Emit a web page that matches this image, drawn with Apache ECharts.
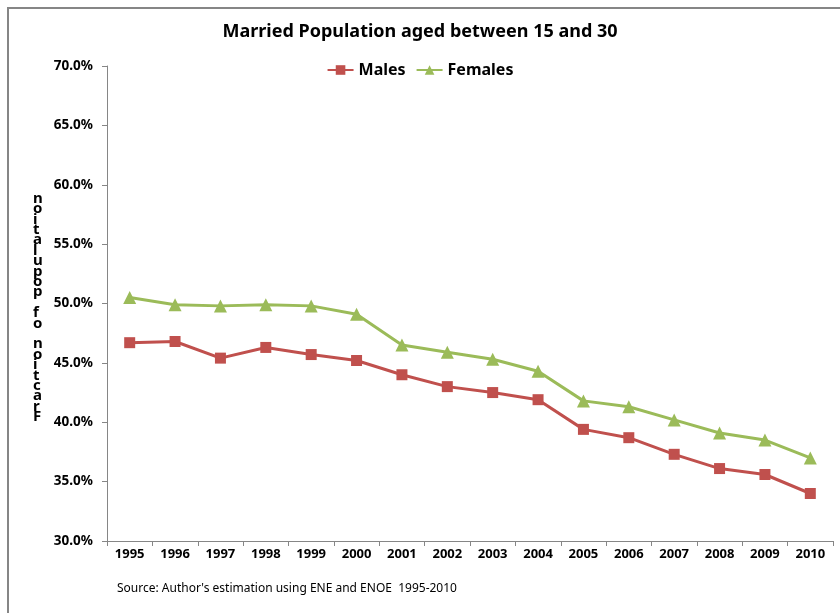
<!DOCTYPE html>
<html>
<head>
<meta charset="utf-8">
<script src="https://cdn.jsdelivr.net/npm/echarts@6/dist/echarts.min.js"></script>
<style>
  html, body { margin: 0; padding: 0; background: #fff; }
  #main { width: 840px; height: 613px; }
</style>
</head>
<body>
<div id="main"></div>
<script>
var years = ['1995','1996','1997','1998','1999','2000','2001','2002','2003','2004','2005','2006','2007','2008','2009','2010'];
var males = [46.7, 46.8, 45.4, 46.3, 45.7, 45.2, 44.0, 43.0, 42.5, 41.9, 39.4, 38.7, 37.3, 36.1, 35.6, 34.0];
var females = [50.5, 49.9, 49.8, 49.9, 49.8, 49.1, 46.5, 45.9, 45.3, 44.3, 41.8, 41.3, 40.2, 39.1, 38.5, 37.0];

var font = "'Liberation Sans Narrow', 'Noto Sans', sans-serif";
// the y title is stacked letter by letter, bottom to top
var yTitle = 'Fraction of population'.split('').reverse().join('\n');

var chart = echarts.init(document.getElementById('main'));
var option = {
  backgroundColor: '#fff',
  textStyle: { fontFamily: font },
  title: {
    text: 'Married Population aged between 15 and 30',
    left: 'center',
    top: 18,
    textStyle: { fontSize: 18, fontWeight: 'bold', color: '#000', fontFamily: font }
  },
  legend: {
    top: 57,
    left: 'center',
    itemGap: 10,
    itemWidth: 26,
    itemHeight: 12,
    textStyle: { fontSize: 16, fontWeight: 'bold', color: '#000', fontFamily: font },
    data: ['Males', 'Females']
  },
  grid: { left: 107, right: 7, top: 66, bottom: 72, containLabel: false },
  xAxis: {
    type: 'category',
    data: years,
    boundaryGap: true,
    axisLine: { lineStyle: { color: '#868686', width: 1 } },
    axisTick: { show: true, length: 5, lineStyle: { color: '#868686' } },
    axisLabel: { fontSize: 13, fontWeight: 'bold', color: '#000', margin: 7, fontFamily: font }
  },
  yAxis: {
    type: 'value',
    min: 30,
    max: 70,
    interval: 5,
    splitLine: { show: false },
    axisLine: { show: true, lineStyle: { color: '#868686', width: 1 } },
    axisTick: { show: true, length: 5, lineStyle: { color: '#868686' } },
    axisLabel: {
      fontSize: 13.5, fontWeight: 'bold', color: '#000', margin: 14, fontFamily: font,
      formatter: function (v) { return v.toFixed(1) + '%'; }
    }
  },
  graphic: [
    {
      type: 'rect',
      shape: { x: 8, y: 8, width: 840, height: 620 },
      style: { fill: 'none', stroke: '#868686', lineWidth: 2 },
      silent: true
    },
    {
      type: 'text',
      left: 33,
      top: 191,
      style: {
        text: yTitle,
        font: 'bold 15px ' + font,
        lineHeight: 10.4,
        fill: '#000',
        align: 'center'
      }
    },
    {
      type: 'text',
      left: 117,
      top: 583,
      style: {
        text: "Source: Author's estimation using ENE and ENOE  1995-2010",
        font: '12px ' + font,
        fill: '#000'
      }
    }
  ],
  series: [
    {
      name: 'Males',
      type: 'line',
      data: males,
      symbol: 'rect',
      symbolSize: 11,
      color: '#C0504D',
      lineStyle: { width: 3, color: '#C0504D' },
      itemStyle: { color: '#C0504D' }
    },
    {
      name: 'Females',
      type: 'line',
      data: females,
      symbol: 'triangle',
      symbolSize: 13,
      color: '#9BBB59',
      lineStyle: { width: 3, color: '#9BBB59' },
      itemStyle: { color: '#9BBB59' }
    }
  ]
};
chart.setOption(option);
</script>
</body>
</html>
